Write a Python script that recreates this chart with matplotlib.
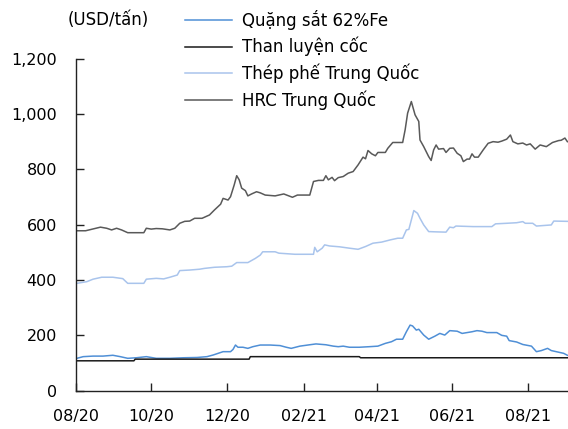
import numpy as np
import pandas as pd
import matplotlib
matplotlib.use("Agg")
import matplotlib.pyplot as plt
import matplotlib.dates as mdates

plt.rcParams['font.family'] = ['DejaVu Sans']

# data: days since 2020-08-01 and price (USD/tan)
start = pd.Timestamp("2020-08-01")

hrc_days = [1, 8, 20, 25, 29, 33, 37, 42, 55, 57, 61, 65, 70, 76, 80, 84, 88, 92, 96, 102,
            104, 108, 112, 117, 119, 123, 125, 128, 130, 132, 134, 137, 139, 142, 146, 149,
            153, 161, 168, 175, 179, 189, 192, 196, 200, 202, 204, 207, 209, 212, 216, 220,
            224, 228, 232, 234, 236, 239, 242, 244, 250, 252, 256, 264, 266, 268, 271, 274,
            277, 278, 281, 283, 285, 287, 289, 291, 293, 297, 299, 302, 305, 308, 311, 313,
            316, 318, 320, 322, 325, 329, 333, 337, 341, 344, 348, 351, 353, 357, 361, 364,
            367, 371, 375, 380, 385, 390, 392, 395, 397]
hrc_vals = [578, 578, 591, 587, 581, 587, 581, 571, 571, 587, 584, 586, 585, 581, 587, 605,
            612, 613, 623, 623, 627, 635, 653, 674, 695, 689, 701, 744, 777, 762, 732, 723,
            704, 711, 719, 715, 707, 704, 711, 699, 707, 707, 756, 760, 760, 777, 762, 771,
            759, 770, 774, 786, 792, 816, 844, 838, 868, 856, 849, 861, 861, 876, 897, 897,
            943, 1003, 1045, 997, 973, 906, 882, 864, 846, 832, 870, 888, 873, 875, 861, 876,
            877, 858, 849, 828, 837, 837, 856, 844, 844, 870, 894, 900, 898, 902, 909, 924,
            900, 892, 895, 888, 892, 873, 888, 882, 897, 904, 905, 913, 900]

scrap_days = [1, 9, 14, 21, 30, 38, 42, 55, 57, 65, 71, 76, 82, 84, 92, 100, 104, 112, 122,
              126, 130, 139, 145, 149, 151, 161, 164, 177, 192, 193, 195, 199, 201, 205, 213,
              221, 228, 234, 240, 247, 254, 260, 264, 267, 269, 271, 273, 276, 278, 281, 285,
              291, 299, 302, 305, 307, 321, 336, 339, 348, 356, 361, 363, 369, 372, 384, 386,
              397]
scrap_vals = [388, 394, 403, 410, 410, 405, 388, 388, 403, 406, 404, 410, 418, 434, 436, 439,
              442, 446, 448, 450, 463, 463, 478, 490, 502, 502, 497, 493, 493, 518, 502, 515,
              527, 523, 520, 515, 511, 521, 533, 537, 545, 551, 551, 581, 583, 617, 651, 641,
              623, 599, 575, 574, 573, 591, 589, 595, 593, 593, 603, 605, 607, 611, 605, 605,
              595, 599, 613, 612]

ore_days = [1, 6, 14, 22, 30, 36, 42, 49, 57, 65, 76, 87, 98, 106, 111, 115, 119, 125, 127,
            129, 131, 135, 139, 143, 149, 157, 165, 170, 174, 181, 189, 194, 202, 208, 212,
            216, 221, 229, 237, 244, 250, 255, 259, 264, 267, 270, 272, 275, 277, 281, 285,
            290, 294, 298, 302, 308, 312, 316, 320, 324, 328, 332, 340, 344, 348, 350, 356,
            361, 368, 372, 376, 381, 384, 390, 394, 397]
ore_vals = [117, 123, 125, 125, 128, 123, 117, 119, 123, 117, 117, 119, 120, 123, 129, 135,
            141, 141, 149, 165, 157, 157, 153, 159, 165, 165, 163, 157, 153, 161, 166, 169,
            166, 161, 159, 161, 157, 157, 159, 161, 171, 177, 186, 186, 213, 237, 234, 219,
            222, 201, 186, 197, 207, 201, 217, 215, 207, 210, 213, 217, 215, 210, 210, 200,
            197, 181, 176, 167, 161, 141, 145, 153, 145, 139, 135, 128]

coal_days = [0, 47, 48, 140, 141, 229, 230, 397]
coal_vals = [108, 108, 114, 114, 123, 123, 119, 119]

labels = ["Quặng sắt 62%Fe", "Than luyện cốc", "Thép phế Trung Quốc", "HRC Trung Quốc"]
colors = ["#4f8fd6", "#1a1a1a", "#a9c4ec", "#595959"]

def to_dates(days):
    return start + pd.to_timedelta(days, unit="D")

fig = plt.figure(figsize=(5.68, 4.29), dpi=100)
ax = fig.add_axes([0.1333, 0.0893, 0.8667, 0.774])

series = [(ore_days, ore_vals), (coal_days, coal_vals), (scrap_days, scrap_vals), (hrc_days, hrc_vals)]
for (d, v), lab, c in zip(series, labels, colors):
    ax.plot(to_dates(d), v, color=c, lw=1.1, label=lab)

ax.set_ylim(0, 1200)
ax.set_yticks(range(0, 1201, 200))
ax.yaxis.set_major_formatter(matplotlib.ticker.FuncFormatter(lambda v, p: f"{int(v):,}"))
ax.set_xlim(start, start + pd.Timedelta(days=397.5))
ax.xaxis.set_major_locator(mdates.MonthLocator(bymonth=[2, 4, 6, 8, 10, 12]))
ax.xaxis.set_major_formatter(mdates.DateFormatter("%m/%y"))

for s in ["top", "right"]:
    ax.spines[s].set_visible(False)
for s in ["left", "bottom"]:
    ax.spines[s].set_color("#222222")
    ax.spines[s].set_linewidth(1.0)
ax.tick_params(axis="y", direction="in", length=5.5, width=1, pad=13.5, labelsize=11.5, colors="#222222", labelcolor="black")
ax.tick_params(axis="x", direction="in", length=5.5, width=1, pad=13.5, labelsize=11.5, colors="#222222", labelcolor="black")

fig.text(108 / 568, 1 - 20 / 429, "(USD/tấn)", ha="center", va="center", fontsize=12)

ax.legend(loc="upper left", bbox_to_anchor=(185 / 568, 1 - 10 / 429), bbox_transform=fig.transFigure,
          frameon=False, fontsize=12, handlelength=2.8, handletextpad=0.6, labelspacing=0.42,
          borderpad=0, borderaxespad=0)

fig.savefig("out.png", dpi=100)
